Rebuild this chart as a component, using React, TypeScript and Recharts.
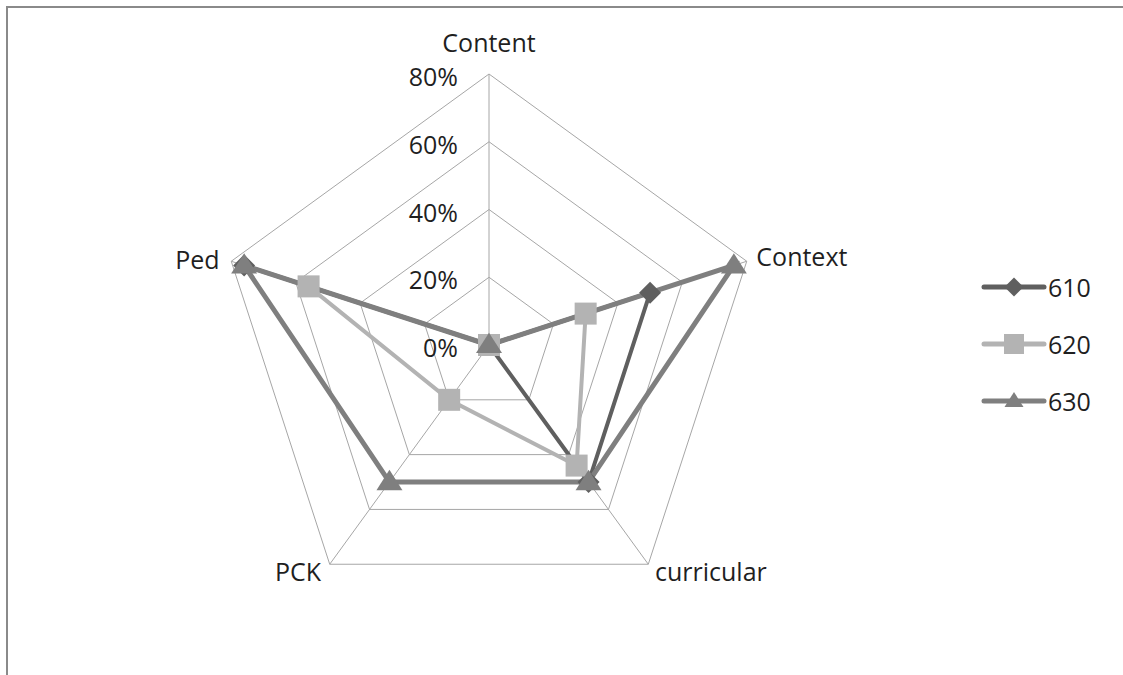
import { RadarChart, Radar, PolarGrid, PolarAngleAxis, PolarRadiusAxis, Legend } from "recharts";

const axes = ["Content", "Context", "curricular", "PCK", "Ped"];
const s610 = [0, 50, 50, 0, 76];
const s620 = [0, 30, 44, 20, 56];
const s630 = [0, 76, 50, 50, 76];
const radiusTicks = [0, 20, 40, 60, 80];

const data = axes.map((axis, i) => ({
  axis,
  s610: s610[i],
  s620: s620[i],
  s630: s630[i],
}));

const FONT = "'Open Sans', sans-serif";
const TEXT = "#1f1f1f";

const series = [
  { key: "s610", name: "610", color: "#5f5f5f", width: 4, shape: "diamond" },
  { key: "s620", name: "620", color: "#b3b3b3", width: 4, shape: "square" },
  { key: "s630", name: "630", color: "#7f7f7f", width: 5, shape: "triangle" },
];

function Marker({ cx, cy, shape, color, size }: any) {
  if (cx == null || cy == null) return null;
  const h = size / 2;
  if (shape === "diamond") {
    return <polygon points={`${cx},${cy - h} ${cx + h},${cy} ${cx},${cy + h} ${cx - h},${cy}`} fill={color} />;
  }
  if (shape === "square") {
    return <rect x={cx - h} y={cy - h} width={size} height={size} fill={color} />;
  }
  const th = size * 0.78;
  return (
    <polygon
      points={`${cx},${cy - th * 0.6} ${cx + h},${cy + th * 0.4} ${cx - h},${cy + th * 0.4}`}
      fill={color}
    />
  );
}

function AngleTick(props: any) {
  const { x, y, payload, textAnchor } = props;
  const dy = textAnchor === "middle" ? -24 : textAnchor === "start" && y < 345 ? -3 : 0;
  const dx = textAnchor === "end" ? -4 : textAnchor === "start" ? 2 : 0;
  return (
    <text x={x + dx} y={y + dy} textAnchor={textAnchor} dominantBaseline="central" fontFamily={FONT} fontSize={25} fill={TEXT}>
      {payload.value}
    </text>
  );
}

function RadiusTick(props: any) {
  const { x, y, payload } = props;
  return (
    <text x={x - 31} y={y + 2} textAnchor="end" dominantBaseline="central" fontFamily={FONT} fontSize={25} fill={TEXT}>
      {payload.value}%
    </text>
  );
}

function LegendBox() {
  return (
    <div style={{ fontFamily: FONT, fontSize: 25, color: TEXT }}>
      {series.map((s) => (
        <div key={s.key} style={{ display: "flex", alignItems: "center", height: 57 }}>
          <svg width={68} height={24}>
            <line x1={4} y1={12} x2={64} y2={12} stroke={s.color} strokeWidth={5} strokeLinecap="round" />
            <Marker cx={34} cy={12} shape={s.shape} color={s.color} size={s.shape === "square" ? 20 : 19} />
          </svg>
          <span>{s.name}</span>
        </div>
      ))}
    </div>
  );
}

export default function App() {
  return (
    <div style={{ position: "fixed", left: 0, top: 0, width: 1123, height: 675, overflow: "hidden", background: "#fff" }}>
      {/* chart frame: only the left and top edges fall inside the picture */}
      <svg width={1123} height={675} style={{ position: "absolute", left: 0, top: 0 }}>
        <path d="M7,675 L7,7 L1123,7" fill="none" stroke="#8a8a8a" strokeWidth={2} />
      </svg>
      <div style={{ position: "absolute", left: 0, top: 0 }}>
        <RadarChart
          width={1123}
          height={675}
          data={data}
          cx={489}
          cy={345}
          outerRadius={271}
          margin={{ top: 0, right: 0, bottom: 0, left: 0 }}
        >
          <PolarGrid gridType="polygon" stroke="#a6a6a6" strokeWidth={1} />
          <PolarAngleAxis dataKey="axis" tick={<AngleTick />} axisLine={false} tickLine={false} />
          <PolarRadiusAxis
            angle={90}
            domain={[0, 80]}
            ticks={radiusTicks}
            tickCount={5}
            axisLine={false}
            tickLine={false}
            tick={<RadiusTick />}
          />
          {series.map((s) => (
            <Radar
              key={s.key}
              name={s.name}
              dataKey={s.key}
              stroke={s.color}
              strokeWidth={s.width}
              fill="none"
              fillOpacity={0}
              isAnimationActive={false}
              dot={(p: any) => (
                <Marker key={`${s.key}-${p.index}`} cx={p.cx} cy={p.cy} shape={s.shape} color={s.color} size={s.shape === "triangle" ? 26 : 22} />
              )}
            />
          ))}
          <Legend
            layout="vertical"
            align="right"
            verticalAlign="middle"
            content={() => <LegendBox />}
            wrapperStyle={{ left: 980, top: 258, width: 130, right: "auto", bottom: "auto" }}
          />
        </RadarChart>
      </div>
    </div>
  );
}
